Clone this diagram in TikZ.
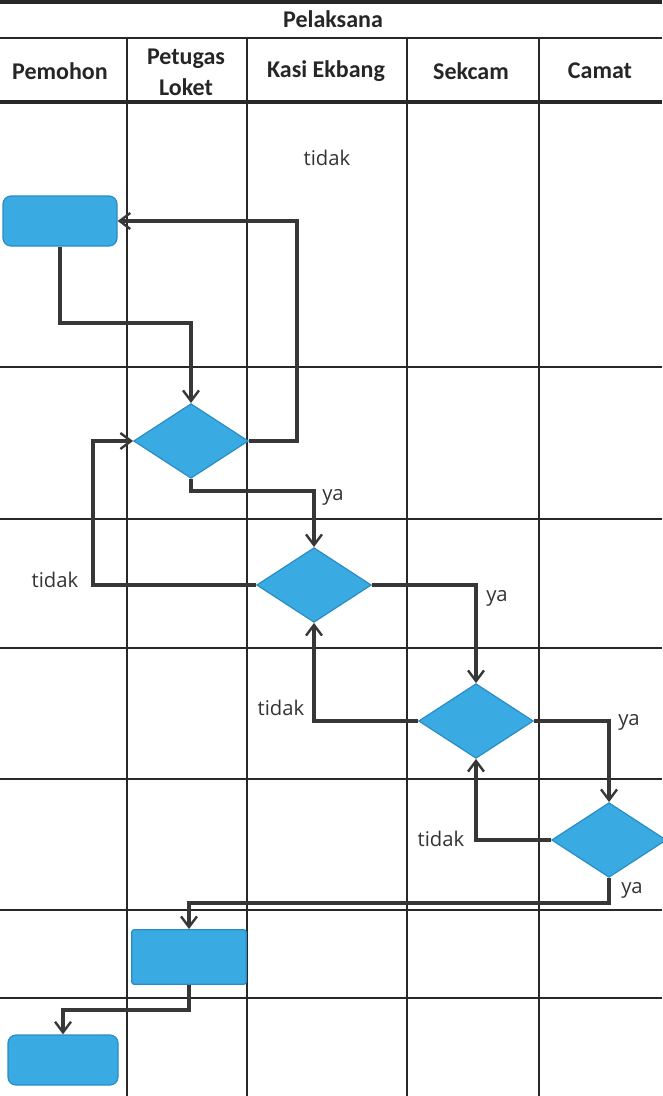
\documentclass[tikz,border=0pt]{standalone}
\usepackage{fontspec}
\setmainfont{Carlito}
\newfontfamily\labfont{Open Sans}
\usetikzlibrary{shapes.geometric,arrows.meta}
\definecolor{boxblue}{RGB}{58,171,226}
\definecolor{boxedge}{RGB}{42,140,196}
\definecolor{gridc}{RGB}{40,40,40}
\definecolor{connc}{RGB}{55,55,55}
\begin{document}
\begin{tikzpicture}[x=0.75pt,y=-0.75pt,
  gridline/.style={draw=gridc, line width=1.5pt},
  thickgrid/.style={draw=gridc, line width=2.6pt},
  hdr/.style={font=\bfseries\fontsize{18}{23}\selectfont, text=black!85, align=center, inner sep=0pt},
  lab/.style={font=\labfont\fontsize{15.2}{18}\selectfont, text=black!80, inner sep=0pt},
  decision/.style={diamond, draw=boxedge, fill=boxblue, line width=0.9pt, inner sep=0pt, minimum width=86pt, minimum height=56pt},
  proc/.style={rectangle, draw=boxedge, fill=boxblue, line width=0.9pt, inner sep=0pt},
  conn/.style={draw=connc, line width=2.5pt, -{Straight Barb[length=8pt,width=12pt,line width=1.8pt]}},
]
\useasboundingbox (0,0) rectangle (662,1096);
% grid
\draw[thickgrid] (0,2) -- (662,2);
\draw[gridline] (0,38) -- (662,38);
\draw[thickgrid] (0,102) -- (662,102);
\foreach \yy in {367,519,648,779,910,998} \draw[gridline] (0,\yy) -- (662,\yy);
\foreach \xx in {127,247,407,539} \draw[gridline] (\xx,38) -- (\xx,1096);
% headers
\node[hdr] (tPel) at (333,19) {Pelaksana};
\node[hdr] (tPem) at (60,71) {Pemohon};
\node[hdr] (tPet) at (186,72) {Petugas\\Loket};
\node[hdr] (tKas) at (326,71) {Kasi Ekbang};
\node[hdr] (tSek) at (471,71) {Sekcam};
\node[hdr] (tCam) at (600,71) {Camat};
% shapes
\node[proc, rounded corners=6pt, minimum width=85.5pt, minimum height=37.5pt] (b1) at (60,221) {};
\node[decision] (d1) at (191,441) {};
\node[decision] (d2) at (314,585) {};
\node[decision] (d3) at (476,721) {};
\node[decision] (d4) at (609,840) {};
\node[proc, rounded corners=2pt, minimum width=86pt, minimum height=41pt] (b2) at (189,957) {};
\node[proc, rounded corners=6pt, minimum width=82.5pt, minimum height=37.5pt] (b3) at (63,1060) {};
% connector corner points
\coordinate (k1) at (60,323);
\coordinate (k2) at (297,221);
\coordinate (k4) at (93,441);
% connectors
\draw[conn] (b1.south) -- (k1) -| (d1.north);
\draw[conn] (d1.east) -| (k2) -- (b1.east);
\draw[conn] (d1.south) -- ++(0,12) -| (d2.north);
\draw[conn] (d2.west) -| (k4) -- (d1.west);
\draw[conn] (d2.east) -| (d3.north);
\draw[conn] (d3.west) -| (d2.south);
\draw[conn] (d3.east) -| (d4.north);
\draw[conn] (d4.west) -| (d3.south);
\draw[conn] (d4.south) -- ++(0,25) -| (b2.north);
\draw[conn] (b2.south) -- ++(0,25) -| (b3.north);
% labels
\node[lab] (l1) at (327,158) {tidak};
\node[lab] (l2) at (333,497) {ya};
\node[lab] (l3) at (55,580) {tidak};
\node[lab] (l4) at (497,598) {ya};
\node[lab] (l5) at (281,708) {tidak};
\node[lab] (l6) at (629,722) {ya};
\node[lab] (l7) at (441,839) {tidak};
\node[lab] (l8) at (632,890) {ya};
\end{tikzpicture}
\end{document}
